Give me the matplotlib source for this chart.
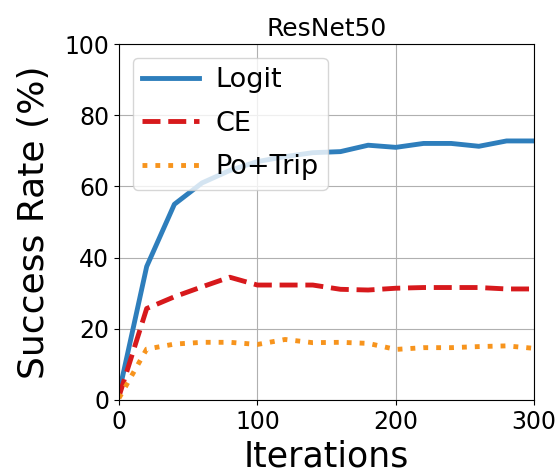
import matplotlib.pyplot as plt
import numpy as np

# Iterações e taxas de sucesso (%)
iters = [0, 20, 40, 60, 80, 100, 120, 140, 160, 180, 200, 220, 240, 260, 280, 300]
logit = [2, 37.5, 55, 61, 64.5, 67, 68.4, 69.5, 69.8, 71.6, 71, 72.1, 72.1, 71.3, 72.8, 72.8]
ce = [1, 25.7, 29, 31.8, 34.5, 32.3, 32.3, 32.3, 31.1, 30.9, 31.4, 31.6, 31.6, 31.6, 31.2, 31.2]
potrip = [0.5, 14.3, 15.7, 16.2, 16.2, 15.6, 17, 16.1, 16.2, 15.9, 14.2, 14.7, 14.7, 15, 15.2, 14.5]

fig = plt.figure(figsize=(5.6, 4.75), dpi=100)
ax = fig.add_axes([0.2125, 0.158, 0.7415, 0.749])

ax.plot(iters, logit, '-', color='#2e7ebc', lw=3.5, label='Logit')
ax.plot(iters, ce, '--', color='#d7191c', lw=3.5, label='CE')
ax.plot(iters, potrip, ':', color='#f7941d', lw=3.5, label='Po+Trip')

ax.set_xlim(0, 300)
ax.set_ylim(0, 100)
ax.set_xticks([0, 100, 200, 300])
ax.set_yticks([0, 20, 40, 60, 80, 100])
ax.tick_params(labelsize=17)
ax.grid(True)
ax.set_xlabel('Iterations', fontsize=25, labelpad=4)
ax.set_ylabel('Success Rate (%)', fontsize=26, labelpad=10)
ax.set_title('ResNet50', fontsize=18)
ax.legend(loc='upper left', fontsize=19.5, handlelength=2.1,
          handletextpad=0.6, labelspacing=0.65, borderpad=0.35)

plt.savefig('out.png', dpi=100)
